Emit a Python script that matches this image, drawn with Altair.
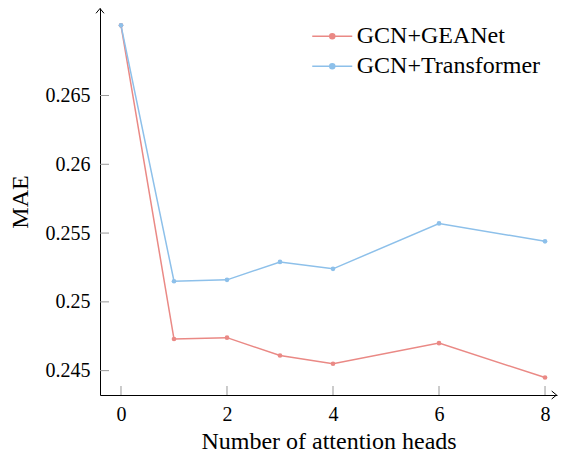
import altair as alt
import pandas as pd

heads = [0, 1, 2, 3, 4, 6, 8]
gea_mae = [0.2701, 0.2473, 0.2474, 0.2461, 0.2455, 0.2470, 0.2445]
trans_mae = [0.2701, 0.2515, 0.2516, 0.2529, 0.2524, 0.2557, 0.2544]
series_names = ["GCN+GEANet", "GCN+Transformer"]
series_colors = ["#EA8985", "#8DC0EA"]
x_ticks = [0, 2, 4, 6, 8]
y_ticks = [0.245, 0.25, 0.255, 0.26, 0.265]

X_DOMAIN = [-0.396, 8.226]
Y_DOMAIN = [0.24323, 0.27136]
W, H = 457, 387
FONT = "Liberation Serif"

rows = []
for h, g, t in zip(heads, gea_mae, trans_mae):
    rows.append({"heads": h, "mae": g, "model": series_names[0]})
    rows.append({"heads": h, "mae": t, "model": series_names[1]})
df = pd.DataFrame(rows)

xscale = alt.Scale(domain=X_DOMAIN, nice=False, zero=False)
yscale = alt.Scale(domain=Y_DOMAIN, nice=False, zero=False)

legend_path = ("M -2 0 L 2 0 M 0.25 0 A 0.25 0.25 0 1 1 -0.25 0 "
               "A 0.25 0.25 0 1 1 0.25 0 Z")

lines = alt.Chart(df).mark_line(
    strokeWidth=1.5,
    point=alt.OverlayMarkDef(size=22, filled=True, opacity=1),
).encode(
    x=alt.X("heads:Q", scale=xscale,
            axis=alt.Axis(values=x_ticks, ticks=False, grid=False,
                          title="Number of attention heads",
                          labelBaseline="alphabetic", labelPadding=25,
                          titleBaseline="alphabetic", titleY=53,
                          domainColor="black", domainWidth=1)),
    y=alt.Y("mae:Q", scale=yscale,
            axis=alt.Axis(values=y_ticks, ticks=False, grid=False,
                          format="~g", title="MAE",
                          labelPadding=10,
                          titleAngle=270, titleBaseline="alphabetic",
                          titleX=-72.7,
                          domainColor="black", domainWidth=1)),
    color=alt.Color("model:N",
                    scale=alt.Scale(domain=series_names, range=series_colors),
                    legend=alt.Legend(title=None, orient="none",
                                      legendX=220.25, legendY=16.2,
                                      symbolType=legend_path, symbolSize=400,
                                      symbolStrokeWidth=1.5,
                                      labelFont=FONT, labelFontSize=24,
                                      labelLimit=400,
                                      labelColor="black", labelOffset=12.5,
                                      rowPadding=6, padding=0)),
    order="heads:Q",
)

ytick_df = pd.DataFrame({"v": y_ticks})
xtick_df = pd.DataFrame({"v": x_ticks})

yticks = alt.Chart(ytick_df).mark_rule(color="#999999", strokeWidth=1).encode(
    y=alt.Y("v:Q", scale=yscale),
    x=alt.value(0), x2=alt.value(9),
)
xticks = alt.Chart(xtick_df).mark_rule(color="#999999", strokeWidth=1).encode(
    x=alt.X("v:Q", scale=xscale),
    y=alt.value(H), y2=alt.value(H - 9),
)

one = alt.Data(values=[{"a": 1}])
yarrow = alt.Chart(one).mark_point(
    shape="M -1 1.2 L 0 0 L 1 1.2", size=64, filled=False,
    color="black", strokeWidth=1, opacity=1,
).encode(x=alt.value(0), y=alt.value(0.5))
xarrow = alt.Chart(one).mark_point(
    shape="M -1.2 -1 L 0 0 L -1.2 1", size=64, filled=False,
    color="black", strokeWidth=1, opacity=1,
).encode(x=alt.value(W - 0.5), y=alt.value(H))

chart = alt.layer(yticks, xticks, lines, yarrow, xarrow).properties(
    width=W, height=H,
    autosize=alt.AutoSizeParams(type="none"),
    padding={"left": 92, "top": 0, "right": 1, "bottom": 61},
).configure_view(stroke=None).configure_axis(
    labelFont=FONT, titleFont=FONT, labelFontSize=20, titleFontSize=24,
    labelColor="black", titleColor="black", titleFontWeight="normal",
)

chart.save("out.html", embed_options={"renderer": "svg", "actions": False})
